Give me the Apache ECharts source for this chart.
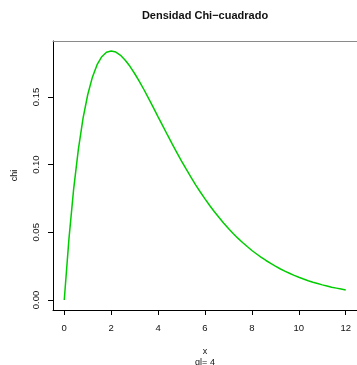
<!DOCTYPE html>
<html>
<head>
<meta charset="utf-8">
<script src="https://cdn.jsdelivr.net/npm/echarts@6/dist/echarts.min.js"></script>
<style>
  html, body { margin: 0; padding: 0; background: #fff; }
  #chart { width: 357px; height: 365px; }
</style>
</head>
<body>
<div id="chart"></div>
<script>
// Chi-square density, 4 degrees of freedom, sampled on 0..12
var xValues = [0.0, 0.2, 0.4, 0.6, 0.8, 1.0, 1.2, 1.4, 1.6, 1.8,
  2.0, 2.2, 2.4, 2.6, 2.8, 3.0, 3.2, 3.4, 3.6, 3.8,
  4.0, 4.2, 4.4, 4.6, 4.8, 5.0, 5.2, 5.4, 5.6, 5.8,
  6.0, 6.2, 6.4, 6.6, 6.8, 7.0, 7.2, 7.4, 7.6, 7.8,
  8.0, 8.2, 8.4, 8.6, 8.8, 9.0, 9.2, 9.4, 9.6, 9.8,
  10.0, 10.2, 10.4, 10.6, 10.8, 11.0, 11.2, 11.4, 11.6, 11.8, 12.0];
var chiValues = [0.0000, 0.0452, 0.0819, 0.1111, 0.1341, 0.1516, 0.1646, 0.1738, 0.1797, 0.1830,
  0.1839, 0.1831, 0.1807, 0.1771, 0.1726, 0.1673, 0.1615, 0.1553, 0.1488, 0.1421,
  0.1353, 0.1286, 0.1219, 0.1153, 0.1089, 0.1026, 0.0966, 0.0907, 0.0851, 0.0798,
  0.0747, 0.0698, 0.0652, 0.0609, 0.0567, 0.0528, 0.0492, 0.0457, 0.0425, 0.0395,
  0.0366, 0.0340, 0.0315, 0.0292, 0.0270, 0.0250, 0.0231, 0.0214, 0.0198, 0.0182,
  0.0168, 0.0155, 0.0143, 0.0132, 0.0122, 0.0112, 0.0104, 0.0095, 0.0088, 0.0081, 0.0074];
var xTicks = [0, 2, 4, 6, 8, 10, 12];
var yTicks = [0, 0.05, 0.10, 0.15];
var titleText = 'Densidad Chi\u2212cuadrado';
var subText = 'gl= 4';
var xName = 'x';
var yName = 'chi';

var FONT = '"Liberation Sans", Arial, Helvetica, sans-serif';
var INK = '#111';

var points = xValues.map(function (x, i) { return [x, chiValues[i]]; });

var chart = echarts.init(document.getElementById('chart'), null, { renderer: 'canvas' });
chart.setOption({
  animation: false,
  backgroundColor: '#ffffff',
  title: [
    {
      text: titleText,
      left: 205, top: 10, textAlign: 'center', padding: 0,
      textStyle: { fontFamily: FONT, fontSize: 11, fontWeight: 'bold', color: INK }
    },
    {
      text: subText,
      left: 205, top: 358, textAlign: 'center', padding: 0,
      textStyle: { fontFamily: FONT, fontSize: 9, fontWeight: 'normal', color: INK }
    }
  ],
  grid: { left: 53, top: 41, right: -1, bottom: 55, containLabel: false },
  xAxis: [
    {
      type: 'value', position: 'bottom',
      min: -0.48, max: 12.48,
      name: xName, nameLocation: 'middle', nameGap: 37,
      nameTextStyle: { fontFamily: FONT, fontSize: 9, color: INK },
      splitLine: { show: false },
      axisLine: { show: true, onZero: false, lineStyle: { color: '#000', width: 1 } },
      axisTick: { show: true, customValues: xTicks, length: 5, lineStyle: { color: '#000' } },
      axisLabel: { show: true, customValues: xTicks, margin: 13, fontFamily: FONT, fontSize: 9.5, color: INK }
    },
    {
      type: 'value', position: 'top',
      min: -0.48, max: 12.48,
      splitLine: { show: false },
      axisLine: { show: true, onZero: false, lineStyle: { color: '#8a8a8a', width: 1 } },
      axisTick: { show: false },
      axisLabel: { show: false }
    }
  ],
  yAxis: {
    type: 'value',
    min: -0.00736, max: 0.1913,
    name: yName, nameLocation: 'middle', nameGap: 34, nameRotate: 90,
    nameTextStyle: { fontFamily: FONT, fontSize: 9, color: INK },
    splitLine: { show: false },
    axisLine: { show: true, onZero: false, lineStyle: { color: '#000', width: 1 } },
    axisTick: { show: true, customValues: yTicks, length: 5, lineStyle: { color: '#000' } },
    axisLabel: {
      show: true, customValues: yTicks, rotate: 90, margin: 12,
      fontFamily: FONT, fontSize: 9.5, color: INK,
      formatter: function (v) { return v.toFixed(2); }
    }
  },
  series: [{
    type: 'line',
    xAxisIndex: 0,
    data: points,
    showSymbol: false,
    smooth: false,
    lineStyle: { color: '#00CD00', width: 1.5 },
    itemStyle: { color: '#00CD00' }
  }]
});
</script>
</body>
</html>
